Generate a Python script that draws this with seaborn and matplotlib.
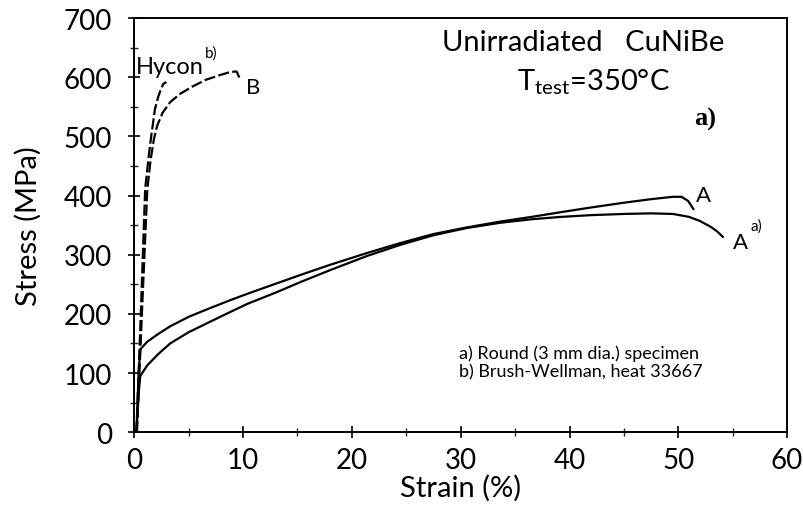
import matplotlib
matplotlib.use("Agg")
import matplotlib.pyplot as plt
import seaborn as sns
import pandas as pd

a_strain = [0.2, 0.4, 0.55, 1.2, 2.2, 3.3, 5.0, 7.0, 8.8, 10.4, 13.0, 15.3, 18.0, 21.4, 24.5,
            27.5, 30.5, 33.6, 36.5, 39.2, 42.0, 45.0, 47.5, 49.5, 50.3, 50.9, 51.4]
a_stress = [0, 100, 140, 153, 166, 179, 195, 210, 223, 234, 251, 266, 283, 303, 320,
            335, 346, 356, 364, 372, 380, 388, 394, 398, 398, 391, 377]

aa_strain = [0.2, 0.4, 0.55, 1.2, 2.2, 3.3, 5.0, 7.0, 8.8, 10.4, 13.0, 15.3, 18.0, 21.4, 24.5,
             27.5, 30.5, 33.6, 36.5, 39.2, 42.0, 45.0, 47.5, 49.5, 51.0, 52.0, 53.0, 53.6, 54.1]
aa_stress = [0, 65, 95, 113, 132, 150, 169, 187, 203, 217, 236, 254, 274, 298, 317,
             333, 345, 354, 360, 364, 367, 369, 370, 369, 364, 357, 347, 339, 330]

hycon_strain = [0.2, 0.6, 1.0, 1.3, 1.56, 1.9, 2.2, 2.45, 2.67, 2.95]
hycon_stress = [0, 200, 411, 462, 501, 546, 567, 580, 589, 592]

b_strain = [0.25, 0.7, 1.2, 1.5, 1.8, 2.1, 2.6, 3.3, 4.2, 5.4, 6.6, 7.9, 8.8, 9.4, 9.7]
b_stress = [0, 200, 411, 460, 495, 518, 540, 558, 572, 585, 596, 604, 609, 610, 598]

x_ticks = [0, 10, 20, 30, 40, 50, 60]
y_ticks = [0, 100, 200, 300, 400, 500, 600, 700]

sns.set_style("ticks")
plt.rcParams['font.family'] = ['Lato', 'DejaVu Sans']
plt.rcParams['text.color'] = 'black'
plt.rcParams['axes.labelcolor'] = 'black'
plt.rcParams['mathtext.default'] = 'regular'

fig = plt.figure(figsize=(8.04, 5.06), dpi=100)
ax = fig.add_axes([0.167, 0.144, 0.812, 0.818])

curves = [
    (a_strain, a_stress, ""),
    (aa_strain, aa_stress, ""),
    (hycon_strain, hycon_stress, (5, 1.5)),
    (b_strain, b_stress, (5, 1.5)),
]
for xs, ys, dash in curves:
    df = pd.DataFrame({"strain": xs, "stress": ys})
    sns.lineplot(data=df, x="strain", y="stress", sort=False, ax=ax,
                 color="black", linewidth=1.6)
    if dash:
        ax.lines[-1].set_dashes(dash)

ax.set_xlim(0, 60)
ax.set_ylim(0, 700)
ax.set_xticks(x_ticks)
ax.set_yticks(y_ticks)
ax.set_xticks(range(5, 60, 10), minor=True)
ax.set_yticks(range(50, 700, 100), minor=True)
ax.tick_params(which="major", direction="inout", length=8, width=1.2, labelsize=20, colors="black")
ax.tick_params(which="minor", direction="inout", length=6, width=1.0)
ax.tick_params(axis="y", pad=12)
ax.tick_params(axis="x", pad=7)
for s in ax.spines.values():
    s.set_color("black")
    s.set_linewidth(1.4)

ax.set_xlabel("Strain (%)", fontsize=21, labelpad=0)
ax.set_ylabel("Stress (MPa)", fontsize=21, labelpad=16)

ax.text(41.3, 660, "Unirradiated   CuNiBe", fontsize=21, ha="center", va="center")
ax.text(42.2, 594, "T$_{test}$=350°C", fontsize=21, ha="center", va="center")
ax.text(52.5, 530, "a)", fontsize=19, fontweight="bold", family="Liberation Serif", ha="center", va="center")
ax.text(52.3, 401, "A", fontsize=16, ha="center", va="center")
ax.text(55.7, 321, "A", fontsize=16, ha="center", va="center")
ax.text(56.6, 350, "a)", fontsize=11, ha="left", va="center")
ax.text(10.9, 584, "B", fontsize=16, ha="center", va="center")
ax.text(0.15, 618, "Hycon", fontsize=17, ha="left", va="center")
ax.text(6.5, 642, "b)", fontsize=11, ha="left", va="center")
ax.text(29.8, 135, "a) Round (3 mm dia.) specimen", fontsize=13, ha="left", va="center")
ax.text(29.8, 103, "b) Brush-Wellman, heat 33667", fontsize=13, ha="left", va="center")

fig.savefig("out.png", dpi=100)
